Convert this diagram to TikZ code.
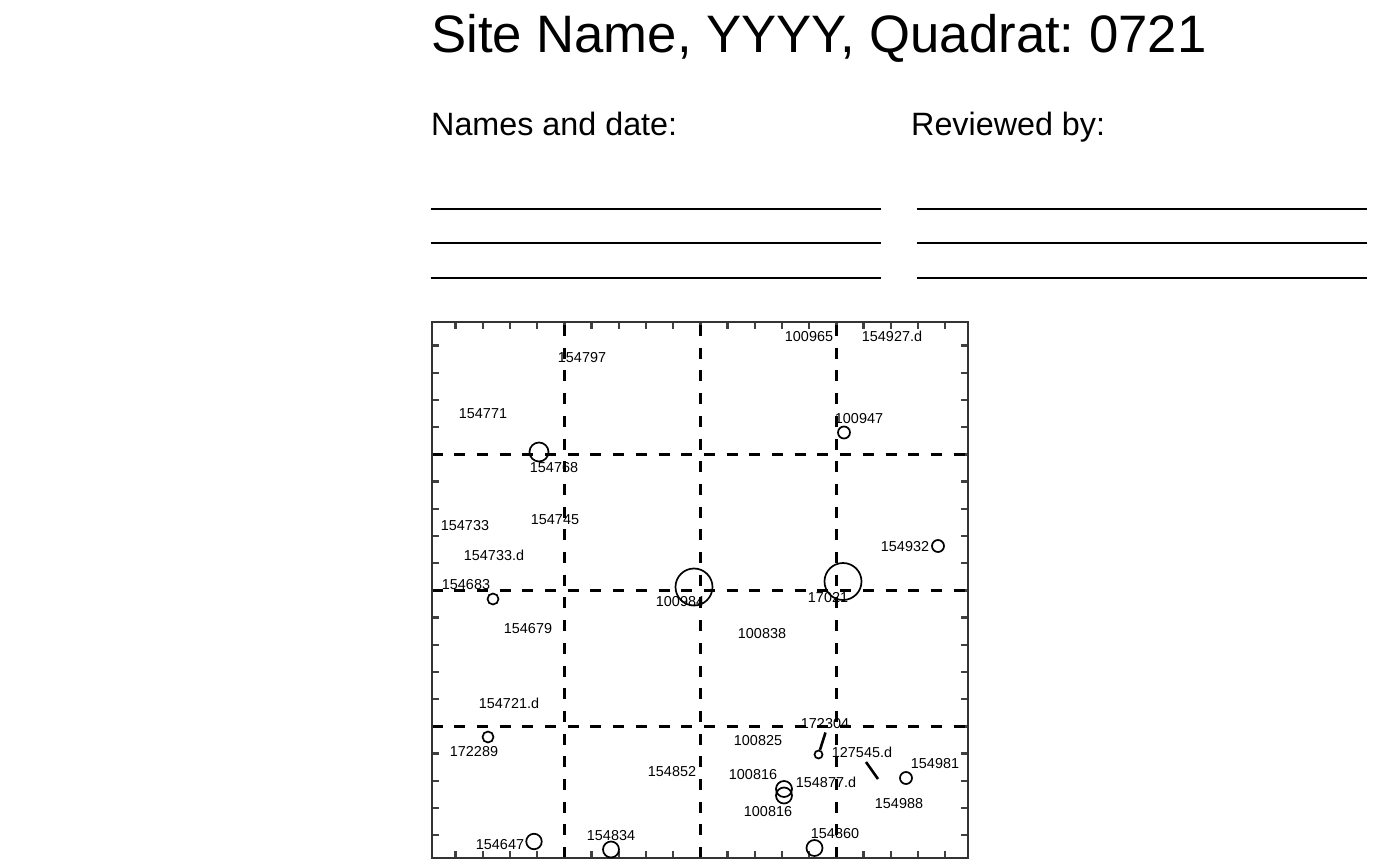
\documentclass[tikz,border=0pt]{standalone}
\usepackage{fontspec}
\setmainfont{Liberation Sans}
\frenchspacing
\tikzset{
    tag/.style={inner sep=0pt, text height=10.3pt, text depth=0pt, font=\fontsize{14.4}{14.4}\selectfont},
    stem/.style={circle, draw, inner sep=0pt, line width=1.7pt, minimum size=#1},
    gridline/.style={line width=3pt, dash pattern=on 11pt off 11.7pt},
    tick/.style={line width=2.3pt, color=black!75},
    writeline/.style={line width=2.2pt},
    heading/.style={inner sep=0pt, anchor=base west, font=\fontsize{32.3}{32.3}\selectfont}
}
\begin{document}
\begin{tikzpicture}[x=1pt, y=-1pt]
    \useasboundingbox (0, 0) rectangle (1400, 866);

    % Title and headings
    \node[inner sep=0pt, anchor=base west, font=\fontsize{52.7}{52.7}\selectfont] (title) at (431, 53) {Site Name, YYYY, Quadrat: 0721};
    \node[heading] (names) at (431, 136) {Names and date:};
    \node[heading] (review) at (911, 136) {Reviewed by:};

    % Lines to write on
    \foreach \y/\n in {209/a, 243/b, 278/c} {
        \coordinate (l\n1) at (430.5, \y);
        \coordinate (l\n2) at (881, \y);
        \coordinate (r\n1) at (916.5, \y);
        \coordinate (r\n2) at (1367, \y);
        \draw[writeline] (l\n1) -- (l\n2);
        \draw[writeline] (r\n1) -- (r\n2);
    }

    % Ticks along the frame
    \foreach \k in {0,...,18} {
        \pgfmathsetmacro{\p}{455.6 + 27.2*\k}
        \pgfmathsetmacro{\q}{345.6 + 27.2*\k}
        \draw[tick] (\p, 322) -- (\p, 329);
        \draw[tick] (\p, 858) -- (\p, 851);
        \draw[tick] (432, \q) -- (439, \q);
        \draw[tick] (968, \q) -- (961, \q);
    }

    % Dashed quadrat lines
    \foreach \p in {564, 700, 836} {
        \draw[gridline] (\p, 325) -- (\p, 858);
    }
    \foreach \q in {454, 590, 726} {
        \draw[gridline] (431.5, \q) -- (968, \q);
    }

    % Frame
    \draw[line width=1.5pt, color=black!80] (432, 322) rectangle (968, 858);

    % Stems
    \node[stem=19pt] (s154768) at (539, 452) {};
    \node[stem=12pt] (s100947) at (844, 432.5) {};
    \node[stem=12pt] (s154932) at (938, 546) {};
    \node[stem=37pt] (s100984) at (694, 587) {};
    \node[stem=37pt] (s17021) at (843, 581.5) {};
    \node[stem=11pt] (s154683) at (493, 599) {};
    \node[stem=11pt] (s172289) at (488, 737) {};
    \node[stem=8pt] (s172304) at (818.5, 754.5) {};
    \node[stem=16pt] (s100816a) at (784, 789) {};
    \node[stem=16pt] (s100816b) at (784, 795.5) {};
    \node[stem=12pt] (s154981) at (906, 778) {};
    \node[stem=15.5pt] (s154647) at (534, 841.5) {};
    \node[stem=16pt] (s154834) at (611, 849.5) {};
    \node[stem=16pt] (s154860) at (814.5, 848) {};

    % Leaning stems
    \coordinate (t172304) at (825.5, 732.5);
    \coordinate (a127545) at (866, 762);
    \coordinate (b127545) at (878, 779);
    \draw[line width=2.6pt] (t172304) -- (s172304);
    \draw[line width=2.6pt] (a127545) -- (b127545);

    % Stem labels
    \node[tag] (n154797) at (582, 357) {154797};
    \node[tag] (n154771) at (483, 413) {154771};
    \node[tag] (n154768) at (554, 467) {154768};
    \node[tag] (n154745) at (555, 519) {154745};
    \node[tag] (n154733) at (465, 525) {154733};
    \node[tag] (n154733d) at (494, 555) {154733.d};
    \node[tag] (n154683) at (466, 584) {154683};
    \node[tag] (n154679) at (528, 628) {154679};
    \node[tag] (n154721d) at (509, 703) {154721.d};
    \node[tag] (n172289) at (474, 751) {172289};
    \node[tag] (n154647) at (500, 844) {154647};
    \node[tag] (n154834) at (611, 835) {154834};
    \node[tag] (n154852) at (672, 771) {154852};
    \node[tag] (n100816a) at (753, 774) {100816};
    \node[tag] (n100816b) at (768, 811) {100816};
    \node[tag] (n154877d) at (826, 782) {154877.d};
    \node[tag] (n154860) at (835, 833) {154860};
    \node[tag] (n100825) at (758, 740) {100825};
    \node[tag] (n172304) at (825, 723) {172304};
    \node[tag] (n127545d) at (862, 752) {127545.d};
    \node[tag] (n154981) at (935, 763) {154981};
    \node[tag] (n154988) at (899, 803) {154988};
    \node[tag] (n154932) at (905, 546) {154932};
    \node[tag] (n100984) at (680, 601) {100984};
    \node[tag] (n17021) at (828, 597) {17021};
    \node[tag] (n100838) at (762, 633) {100838};
    \node[tag] (n100947) at (859, 418) {100947};
    \node[tag] (n100965) at (809, 336) {100965};
    \node[tag] (n154927d) at (892, 336) {154927.d};
\end{tikzpicture}
\end{document}
